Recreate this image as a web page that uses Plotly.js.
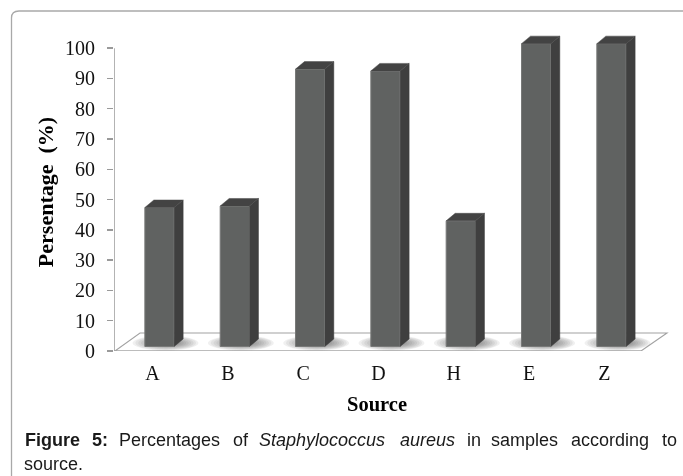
<!DOCTYPE html>
<html><head><meta charset="utf-8">
<script src="https://cdn.plot.ly/plotly-3.0.1.min.js"></script>
<style>html,body{margin:0;padding:0;background:#fff;overflow:hidden}#chart{filter:blur(0.35px)}</style>
</head><body><div id="chart" style="width:683px;height:476px"></div>
<script>
const categories = ['A','B','C','D','H','E','Z'];
const percentages = [45.9, 46.4, 91.6, 91, 41.5, 100, 100];
const yTicks = [0,10,20,30,40,50,60,70,80,90,100];
const yTitle = 'Persentage\u00a0\u00a0(%)';
const xTitle = 'Source';
const captionWords = [
  ['<b>Figure</b>',24,447],['<b>5:</b>',91,447],['Percentages',118,447],['of',232,447],
  ['<i>Staphylococcus</i>',258,447],['<i>aureus</i>',399,447],['in',466,447],['samples',490,447],
  ['according',570,447],['to',661,447],['source.',23,471]
];

const W=683,H=476,mL=114,mR=13,mT=33,mB=125;
const pxX=75.33, pxY=(H-mT-mB)/105;
const xMin=-(159.5-mL)/pxX, xMax=(W-mR-159.5)/pxX;
const barW=29.3/pxX, depthX=9/pxX, depthY=7.5/pxY, lift=4.5/pxY, labelShift=-7/pxX;
const xs=categories.map((_,i)=>i);
const px=x=>(x-mL)/(W-mL-mR), py=y=>(H-mB-y)/(H-mT-mB);

const sideX=[],sideY=[],topX=[],topY=[];
percentages.forEach((v,i)=>{
  const r=i+barW/2,l=i-barW/2,t=lift+v;
  sideX.push(r,r+depthX,r+depthX,r,null); sideY.push(lift,lift+depthY,t+depthY,t,null);
  topX.push(l,l+depthX,r+depthX,r,null); topY.push(t,t+depthY,t+depthY,t,null);
});

const shapes=[];
// frame
const fr=`M${px(11.5)},${py(476)} L${px(11.5)},${py(18)} Q${px(11.5)},${py(11)} ${px(19)},${py(11)} L${px(683)},${py(11)}`;
shapes.push({type:'path',xref:'paper',yref:'paper',path:fr,line:{color:'#a9a9a9',width:1.3},layer:'below'});
// floor
const fl=[[xMin+1/pxX,0],[xMin+26/pxX,18/pxY],[xMin+553/pxX,18/pxY],[xMin+527/pxX,0]];
shapes.push({type:'path',xref:'x',yref:'y',layer:'below',
  path:'M'+fl.map(p=>p.join(',')).join(' L')+' Z',line:{color:'#a2a2a2',width:1.1}});
shapes.push({type:'line',xref:'x',yref:'y',layer:'below',x0:xMin-1/pxX,x1:xMin+527/pxX,y0:-0.2,y1:-0.2,line:{color:'#a8a8a8',width:2.4}});
// soft shadows: many faint nested ellipses behind each bar foot
xs.forEach(i=>{
  for(let k=0;k<10;k++){
    const s=1-k*0.08, cx=i+(6+2*k*0.1)/pxX, cy=lift+3.5/pxY, rx=33*s/pxX, ry=7.5*s/pxY;
    shapes.push({type:'circle',xref:'x',yref:'y',layer:'below',line:{width:0},
      fillcolor:'rgba(70,70,70,0.08)',x0:cx-rx,x1:cx+rx,y0:cy-ry,y1:cy+ry});
  }
});

const annotations=captionWords.map(w=>({text:w[0],xref:'paper',yref:'paper',x:px(w[1]),y:py(w[2]+4),
  xanchor:'left',yanchor:'bottom',showarrow:false,align:'left',borderpad:0,
  font:{family:'Liberation Sans, Arial, sans-serif',size:18,color:'#1a1a1a'}}));
annotations.push({text:'<b>'+xTitle+'</b>',xref:'paper',yref:'paper',x:px(377),y:py(404),xanchor:'center',yanchor:'middle',
  showarrow:false,font:{family:'Liberation Serif, serif',size:20.5,color:'#000'}});

const traces=[
  {type:'scatter',x:[xMin,xMin],y:[0,100],mode:'lines',line:{color:'#9a9a9a',width:1.5},hoverinfo:'skip',cliponaxis:false},
  {type:'scatter',x:sideX,y:sideY,mode:'lines',fill:'toself',fillcolor:'#3f3f3f',line:{color:'#3f3f3f',width:0.5},hoverinfo:'skip'},
  {type:'scatter',x:topX,y:topY,mode:'lines',fill:'toself',fillcolor:'#434343',line:{color:'#4a4a4a',width:0.5},hoverinfo:'skip'},
  {type:'bar',x:xs,y:percentages,base:lift,width:barW,marker:{color:'#606261',line:{color:'#787978',width:1}}}
];

Plotly.newPlot('chart',traces,{
  width:W,height:H,margin:{l:mL,r:mR,t:mT,b:mB,pad:0},
  showlegend:false,paper_bgcolor:'#fff',plot_bgcolor:'#fff',
  bargap:0,
  xaxis:{type:'linear',range:[xMin,xMax],showgrid:false,zeroline:false,showline:false,
    tickmode:'array',tickvals:xs.map(i=>i+labelShift),ticktext:categories,ticks:'',
    tickfont:{family:'Liberation Serif, serif',size:20,color:'#111'},ticklabelstandoff:8},
  yaxis:{range:[0,105],showgrid:false,zeroline:false,showline:false,
    tickmode:'array',tickvals:yTicks,ticktext:yTicks.map(String),ticks:'outside',ticklen:6,tickwidth:1.5,tickcolor:'#9a9a9a',
    tickfont:{family:'Liberation Serif, serif',size:20,color:'#111'},ticklabelstandoff:8,
    title:{text:'<b>'+yTitle+'</b>',standoff:5,font:{family:'Liberation Serif, serif',size:22,color:'#000'}}},
  shapes,annotations
},{displayModeBar:false,staticPlot:true});
</script></body></html>
